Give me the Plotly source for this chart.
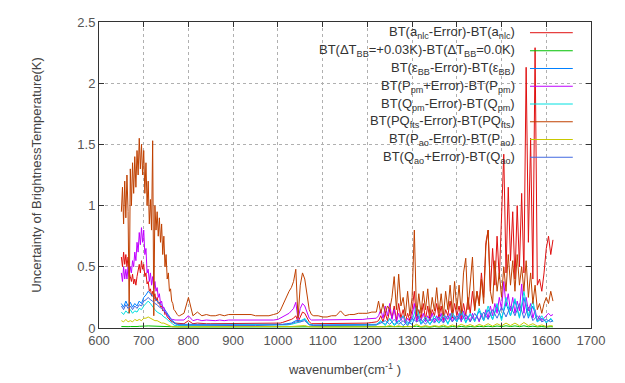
import plotly.graph_objects as go

# ---------------- main grid (red / magenta / brown) ----------------
wn_a = [650, 652.5, 655, 657.5, 660, 662.5, 665, 667.5, 670, 672.5, 675, 677.5, 680, 682.5, 685, 687.5,
        690, 692.5, 695, 697.5, 700, 702.5, 705, 707.5, 710, 712.5, 715, 717.5, 720, 722.5, 725, 727.5,
        730, 732.5, 735, 737.5, 740, 742.5, 745, 747.5, 750, 752.5, 755, 757.5, 760, 762.5, 765, 767.5,
        770, 772.5, 775, 777.5, 780]
wn_b = [790, 800, 810, 820, 830, 840, 850, 860, 870, 880, 890, 900, 910, 920, 930, 940, 950, 960, 970,
        980, 990, 1000]
wn_c = [1005, 1010, 1015, 1020, 1025, 1030, 1035, 1040, 1045, 1050, 1055, 1060, 1065, 1070, 1075, 1080]
wn_d = [1090, 1100, 1110, 1120, 1130, 1140, 1150, 1160, 1170, 1180, 1190, 1200, 1210, 1220]
wn_e = [1225, 1230, 1235, 1240, 1245, 1250, 1255, 1260, 1265, 1270, 1275, 1280, 1285, 1290, 1295, 1300,
        1305, 1310, 1315, 1320, 1325, 1330, 1335, 1340, 1345, 1350, 1355, 1360, 1365, 1370, 1375, 1380,
        1385, 1390, 1395, 1400, 1405, 1410, 1415, 1420, 1425, 1430, 1435, 1440, 1445, 1450, 1455, 1460,
        1465, 1470, 1475, 1480, 1485, 1490, 1495, 1500, 1505, 1510, 1515, 1520, 1525, 1530, 1535, 1540,
        1545, 1550, 1555, 1560, 1565, 1570, 1575, 1580, 1585, 1590, 1595, 1600, 1605, 1610, 1615]

red_a = [0.58, 0.5, 0.62, 0.52, 0.6, 0.5, 0.58, 0.45, 0.42, 0.38, 0.44, 0.36, 0.4, 0.35, 0.42, 0.48,
         0.52, 0.45, 0.55, 0.48, 0.52, 0.42, 0.45, 0.36, 0.38, 0.3, 0.32, 0.26, 0.3, 0.25, 0.28, 0.22,
         0.25, 0.2, 0.21, 0.17, 0.18, 0.14, 0.15, 0.11, 0.12, 0.09, 0.08, 0.07, 0.06, 0.05, 0.05, 0.04,
         0.04, 0.04, 0.035, 0.035, 0.035]
red_b = [0.035, 0.06, 0.035, 0.04, 0.035, 0.035, 0.035, 0.035, 0.035, 0.035, 0.035, 0.035, 0.035,
         0.035, 0.035, 0.035, 0.035, 0.035, 0.035, 0.035, 0.04, 0.04]
red_c = [0.04, 0.045, 0.05, 0.055, 0.06, 0.07, 0.08, 0.1, 0.05, 0.09, 0.13, 0.12, 0.08, 0.05, 0.035, 0.035]
red_d = [0.035, 0.035, 0.035, 0.035, 0.035, 0.035, 0.035, 0.035, 0.035, 0.035, 0.04, 0.04, 0.045, 0.05]
red_e = [0.06, 0.1, 0.05, 0.12, 0.06, 0.15, 0.08, 0.18, 0.06, 0.2, 0.08, 0.15, 0.05, 0.12, 0.06, 0.15,
         0.3, 0.05, 0.15, 0.08, 0.2, 0.07, 0.18, 0.06, 0.15, 0.1, 0.2, 0.08, 0.18, 0.06, 0.15, 0.1,
         0.22, 0.08, 0.2, 0.1, 0.18, 0.07, 0.2, 0.1, 0.25, 0.12, 0.3, 0.15, 0.3, 0.2, 0.45, 0.25,
         0.7, 0.8, 0.3, 0.65, 0.35, 0.75, 0.4, 0.86, 1.42, 0.45, 1.15, 0.55, 0.95, 0.4, 1.0, 0.5,
         1.1, 0.45, 2.13, 0.7, 1.55, 0.4, 2.29, 0.35, 0.4, 0.3, 0.45, 0.65, 0.75, 0.6, 0.72]

mag_a = [0.45, 0.38, 0.5, 0.4, 0.48, 0.4, 0.5, 0.42, 0.5, 0.45, 0.55, 0.5, 0.62, 0.55, 0.7, 0.62,
         0.78, 0.68, 0.82, 0.7, 0.8, 0.6, 0.65, 0.45, 0.48, 0.38, 0.45, 0.35, 0.42, 0.32, 0.38, 0.3,
         0.33, 0.25, 0.28, 0.2, 0.22, 0.16, 0.17, 0.13, 0.13, 0.1, 0.1, 0.08, 0.08, 0.07, 0.07, 0.065,
         0.065, 0.065, 0.065, 0.065, 0.065]
mag_b = [0.065, 0.1, 0.06, 0.07, 0.06, 0.065, 0.06, 0.06, 0.065, 0.06, 0.065, 0.065, 0.065, 0.065,
         0.065, 0.065, 0.06, 0.06, 0.06, 0.06, 0.065, 0.07]
mag_c = [0.08, 0.09, 0.1, 0.11, 0.12, 0.14, 0.16, 0.21, 0.07, 0.16, 0.2, 0.18, 0.13, 0.08, 0.065, 0.065]
mag_d = [0.065, 0.065, 0.065, 0.065, 0.065, 0.07, 0.065, 0.065, 0.07, 0.07, 0.07, 0.075, 0.075, 0.08]
mag_e = [0.1, 0.15, 0.08, 0.18, 0.1, 0.2, 0.07, 0.15, 0.05, 0.12, 0.06, 0.1, 0.04, 0.08, 0.05, 0.1,
         0.2, 0.05, 0.1, 0.06, 0.12, 0.05, 0.1, 0.06, 0.12, 0.05, 0.1, 0.06, 0.12, 0.05, 0.1, 0.07,
         0.12, 0.05, 0.1, 0.06, 0.12, 0.05, 0.14, 0.07, 0.1, 0.05, 0.12, 0.06, 0.1, 0.05, 0.12, 0.07,
         0.15, 0.08, 0.18, 0.1, 0.2, 0.12, 0.25, 0.15, 0.38, 0.18, 0.28, 0.14, 0.25, 0.12, 0.22, 0.14,
         0.36, 0.12, 0.25, 0.14, 0.2, 0.08, 0.15, 0.06, 0.1, 0.06, 0.08, 0.1, 0.12, 0.1, 0.11]

brown_a = [0.95, 1.15, 0.85, 1.2, 0.9, 1.25, 0.95, 0.12, 1.3, 1.0, 1.35, 1.1, 1.4, 1.15, 1.45, 1.25,
           1.55, 1.3, 1.5, 1.25, 1.45, 1.1, 1.35, 1.0, 1.2, 0.85, 1.05, 0.8, 1.53, 0.1, 1.0, 0.8,
           0.95, 0.75, 0.9, 0.7, 0.85, 0.6, 0.75, 0.5, 0.6, 0.4, 0.45, 0.3, 0.32, 0.22, 0.2, 0.15,
           0.14, 0.12, 0.11, 0.1, 0.1]
brown_b = [0.12, 0.25, 0.1, 0.13, 0.1, 0.11, 0.1, 0.1, 0.11, 0.1, 0.11, 0.11, 0.11, 0.11, 0.11, 0.11,
           0.1, 0.1, 0.1, 0.1, 0.11, 0.12]
brown_c = [0.14, 0.18, 0.22, 0.27, 0.3, 0.33, 0.38, 0.48, 0.08, 0.35, 0.45, 0.4, 0.25, 0.15, 0.11, 0.1]
brown_d = [0.1, 0.09, 0.09, 0.1, 0.1, 0.14, 0.1, 0.11, 0.11, 0.12, 0.12, 0.12, 0.13, 0.13]
brown_e = [0.22, 0.12, 0.2, 0.12, 0.18, 0.15, 0.25, 0.42, 0.15, 0.44, 0.18, 0.25, 0.1, 0.3, 0.1, 0.25,
           0.8, 0.1, 0.28, 0.12, 0.3, 0.15, 0.32, 0.1, 0.25, 0.14, 0.33, 0.12, 0.28, 0.1, 0.3, 0.15,
           0.35, 0.12, 0.38, 0.15, 0.35, 0.12, 0.45, 0.57, 0.15, 0.35, 0.58, 0.14, 0.3, 0.18, 0.4, 0.2,
           0.67, 0.8, 0.3, 0.2, 0.55, 0.3, 0.45, 0.25, 0.5, 0.3, 0.6, 0.35, 0.55, 0.3, 0.6, 0.35,
           0.5, 0.3, 0.55, 0.25, 0.45, 0.2, 0.35, 0.15, 0.2, 0.12, 0.2, 0.25, 0.2, 0.3, 0.22]

# ---------------- coarse grid (minor series) ----------------
wm_a = [650, 655, 660, 665, 670, 675, 680, 685, 690, 695, 700, 705, 710, 715, 720, 725, 730, 735,
        740, 745, 750, 755, 760, 765, 770, 775, 780]
wm_b = [800, 850, 900, 950, 1000]
wm_c = [1010, 1020, 1030, 1040, 1050, 1060, 1070, 1080]
wm_d = [1100, 1140, 1180, 1220]
wm_e = [1230, 1240, 1250, 1260, 1270, 1280, 1290, 1300, 1310, 1320, 1330, 1340, 1350, 1360, 1370,
        1380, 1390, 1400, 1410, 1420, 1430, 1440, 1450, 1460, 1470, 1480, 1490, 1500, 1510, 1520,
        1530, 1540, 1550, 1560, 1570, 1580, 1590, 1600, 1610, 1615]

green_a = [0.012, 0.01, 0.013, 0.011, 0.012, 0.01, 0.013, 0.012, 0.014, 0.013, 0.015, 0.016, 0.017,
           0.016, 0.015, 0.014, 0.013, 0.012, 0.012, 0.011, 0.01, 0.009, 0.008, 0.008, 0.008, 0.008, 0.008]
green_b = [0.008, 0.008, 0.008, 0.008, 0.008]
green_c = [0.008, 0.008, 0.009, 0.009, 0.01, 0.01, 0.008, 0.008]
green_d = [0.008, 0.008, 0.008, 0.008]
green_e = [0.008, 0.01, 0.007, 0.012, 0.008, 0.01, 0.006, 0.011, 0.015, 0.008, 0.01, 0.007, 0.012,
           0.008, 0.011, 0.007, 0.012, 0.009, 0.013, 0.008, 0.012, 0.009, 0.014, 0.01, 0.015, 0.01,
           0.016, 0.011, 0.018, 0.012, 0.017, 0.011, 0.018, 0.01, 0.015, 0.009, 0.012, 0.008, 0.011, 0.01]

blue_a = [0.2, 0.17, 0.22, 0.18, 0.21, 0.17, 0.2, 0.18, 0.22, 0.2, 0.25, 0.27, 0.3, 0.28, 0.26, 0.24,
          0.22, 0.2, 0.19, 0.16, 0.14, 0.11, 0.08, 0.06, 0.04, 0.03, 0.03]
blue_b = [0.025, 0.025, 0.025, 0.025, 0.03]
blue_c = [0.03, 0.035, 0.04, 0.06, 0.06, 0.07, 0.03, 0.025]
blue_d = [0.025, 0.025, 0.03, 0.03]
blue_e = [0.05, 0.03, 0.07, 0.03, 0.06, 0.02, 0.05, 0.03, 0.12, 0.03, 0.07, 0.03, 0.08, 0.04, 0.09,
          0.04, 0.1, 0.05, 0.12, 0.05, 0.11, 0.06, 0.14, 0.06, 0.15, 0.07, 0.18, 0.08, 0.2, 0.1,
          0.22, 0.09, 0.25, 0.08, 0.18, 0.05, 0.08, 0.05, 0.07, 0.06]

cyan_a = [0.13, 0.11, 0.14, 0.12, 0.15, 0.12, 0.14, 0.13, 0.16, 0.15, 0.18, 0.2, 0.22, 0.2, 0.17, 0.15,
          0.13, 0.12, 0.11, 0.09, 0.08, 0.06, 0.05, 0.03, 0.02, 0.02, 0.02]
cyan_b = [0.02, 0.02, 0.02, 0.02, 0.02]
cyan_c = [0.02, 0.025, 0.03, 0.04, 0.05, 0.08, 0.03, 0.02]
cyan_d = [0.02, 0.02, 0.02, 0.025]
cyan_e = [0.06, 0.02, 0.08, 0.02, 0.05, 0.1, 0.03, 0.06, 0.18, 0.04, 0.09, 0.03, 0.1, 0.04, 0.12,
          0.03, 0.13, 0.05, 0.15, 0.04, 0.12, 0.05, 0.16, 0.06, 0.18, 0.07, 0.2, 0.06, 0.25, 0.1,
          0.24, 0.08, 0.3, 0.1, 0.22, 0.05, 0.1, 0.04, 0.08, 0.05]

yellow_a = [0.06, 0.05, 0.07, 0.05, 0.06, 0.05, 0.07, 0.06, 0.07, 0.06, 0.08, 0.08, 0.09, 0.08, 0.07,
            0.06, 0.06, 0.05, 0.04, 0.04, 0.03, 0.02, 0.015, 0.01, 0.01, 0.01, 0.01]
yellow_b = [0.008, 0.008, 0.008, 0.008, 0.008]
yellow_c = [0.008, 0.01, 0.012, 0.015, 0.018, 0.02, 0.01, 0.008]
yellow_d = [0.008, 0.008, 0.01, 0.01]
yellow_e = [0.015, 0.01, 0.02, 0.01, 0.018, 0.008, 0.015, 0.01, 0.03, 0.01, 0.02, 0.01, 0.02, 0.012,
            0.025, 0.01, 0.025, 0.012, 0.03, 0.015, 0.028, 0.012, 0.03, 0.015, 0.035, 0.015, 0.035,
            0.018, 0.04, 0.02, 0.04, 0.018, 0.045, 0.02, 0.035, 0.015, 0.025, 0.012, 0.02, 0.015]

royal_a = [0.18, 0.15, 0.19, 0.16, 0.18, 0.15, 0.18, 0.16, 0.19, 0.18, 0.22, 0.23, 0.25, 0.23, 0.22,
           0.2, 0.19, 0.17, 0.16, 0.14, 0.12, 0.1, 0.07, 0.05, 0.035, 0.03, 0.025]
royal_b = [0.025, 0.02, 0.02, 0.02, 0.025]
royal_c = [0.025, 0.03, 0.035, 0.05, 0.05, 0.06, 0.025, 0.02]
royal_d = [0.02, 0.02, 0.025, 0.025]
royal_e = [0.04, 0.06, 0.03, 0.07, 0.03, 0.06, 0.02, 0.08, 0.05, 0.07, 0.03, 0.08, 0.04, 0.09, 0.04,
           0.1, 0.05, 0.1, 0.06, 0.11, 0.05, 0.12, 0.06, 0.13, 0.07, 0.15, 0.08, 0.17, 0.09, 0.18,
           0.1, 0.2, 0.08, 0.17, 0.06, 0.1, 0.05, 0.07, 0.05, 0.06]

wn_main = wn_a + wn_b + wn_c + wn_d + wn_e
wn_minor = wm_a + wm_b + wm_c + wm_d + wm_e

labels = [
    "BT(a<sub>nlc</sub>-Error)-BT(a<sub>nlc</sub>)",
    "BT(ΔT<sub>BB</sub>=+0.03K)-BT(ΔT<sub>BB</sub>=0.0K)",
    "BT(ε<sub>BB</sub>-Error)-BT(ε<sub>BB</sub>)",
    "BT(P<sub>pm</sub>+Error)-BT(P<sub>pm</sub>)",
    "BT(Q<sub>pm</sub>-Error)-BT(Q<sub>pm</sub>)",
    "BT(PQ<sub>fts</sub>-Error)-BT(PQ<sub>fts</sub>)",
    "BT(P<sub>ao</sub>-Error)-BT(P<sub>ao</sub>)",
    "BT(Q<sub>ao</sub>+Error)-BT(Q<sub>ao</sub>)",
]
colors = ["#e01010", "#00c000", "#0080ff", "#c000ff", "#00e0e0", "#c04000", "#c8c800", "#4169e1"]

series = [
    (wn_main, red_a + red_b + red_c + red_d + red_e),
    (wn_minor, green_a + green_b + green_c + green_d + green_e),
    (wn_minor, blue_a + blue_b + blue_c + blue_d + blue_e),
    (wn_main, mag_a + mag_b + mag_c + mag_d + mag_e),
    (wn_minor, cyan_a + cyan_b + cyan_c + cyan_d + cyan_e),
    (wn_main, brown_a + brown_b + brown_c + brown_d + brown_e),
    (wn_minor, yellow_a + yellow_b + yellow_c + yellow_d + yellow_e),
    (wn_minor, royal_a + royal_b + royal_c + royal_d + royal_e),
]
for xs, ys in series:
    assert len(xs) == len(ys), (len(xs), len(ys))

fig = go.Figure()
for (xs, ys), name, col in zip(series, labels, colors):
    fig.add_trace(go.Scatter(x=xs, y=ys, mode="lines", name=name, showlegend=False,
                             line=dict(color=col, width=1)))

# gnuplot-style key: right-aligned text, line sample on the right
row_y = [0.965, 0.906, 0.848, 0.79, 0.732, 0.674, 0.616, 0.558]
for name, col, yy in zip(labels, colors, row_y):
    fig.add_annotation(x=0.85, y=yy, xref="paper", yref="paper", text=name, showarrow=False,
                       xanchor="right", yanchor="middle",
                       font=dict(family="Liberation Sans, Arial", size=13, color="#333333"))
    fig.add_shape(type="line", xref="paper", yref="paper", x0=0.876, x1=0.963, y0=yy, y1=yy,
                  line=dict(color=col, width=1))

axis_common = dict(showline=True, linecolor="#333333", linewidth=1, mirror="ticks", ticks="inside",
                   ticklen=5, tickcolor="#333333", showgrid=True, gridcolor="#b0b0b0", griddash="dot",
                   gridwidth=1, zeroline=False, ticklabeloverflow="allow",
                   tickfont=dict(family="Liberation Sans, Arial", size=13, color="#555555"))

fig.update_xaxes(range=[600, 1700], dtick=100, tick0=600,
                 title=dict(text="wavenumber(cm<sup>-1</sup> )", standoff=18,
                            font=dict(family="Liberation Sans, Arial", size=13, color="#444444")),
                 **axis_common)
fig.update_yaxes(range=[0, 2.5], tickvals=[0, 0.5, 1, 1.5, 2, 2.5],
                 ticktext=["0", "0.5", "1", "1.5", "2", "2.5"],
                 title=dict(text="Uncertainty of BrightnessTemperature(K)", standoff=32,
                            font=dict(family="Liberation Sans, Arial", size=13, color="#444444")),
                 **axis_common)

# the page adds an 8px body margin, so the figure is sized/margined to land the
# plot area at the reference's pixel position
fig.update_layout(width=617, height=375, margin=dict(l=91, r=34, t=7, b=55),
                  paper_bgcolor="white", plot_bgcolor="white")

fig.write_html("out.html")
